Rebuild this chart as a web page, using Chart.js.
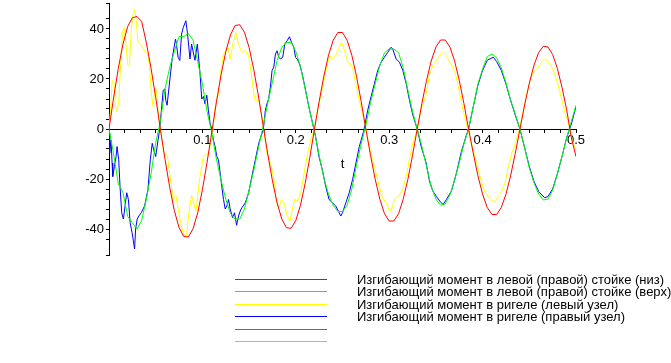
<!DOCTYPE html>
<html>
<head>
<meta charset="utf-8">
<script src="https://cdn.jsdelivr.net/npm/chart.js@4.4.1/dist/chart.umd.min.js"></script>
<style>
  html, body { margin: 0; padding: 0; background: #fff; }
  #wrap { width: 671px; height: 363px; }
</style>
</head>
<body>
<div id="wrap"><canvas id="momentChart" width="671" height="363"></canvas></div>
<script>
// sample times shared by the two smooth curves
const tGrid = [
  0, 0.005, 0.01, 0.015, 0.02, 0.025, 0.03, 0.035, 0.04, 0.045,
  0.05, 0.055, 0.06, 0.065, 0.07, 0.075, 0.08, 0.085, 0.09, 0.095,
  0.1, 0.105, 0.11, 0.115, 0.12, 0.125, 0.13, 0.135, 0.14, 0.145,
  0.15, 0.155, 0.16, 0.165, 0.17, 0.175, 0.18, 0.185, 0.19, 0.195,
  0.2, 0.205, 0.21, 0.215, 0.22, 0.225, 0.23, 0.235, 0.24, 0.245,
  0.25, 0.255, 0.26, 0.265, 0.27, 0.275, 0.28, 0.285, 0.29, 0.295,
  0.3, 0.305, 0.31, 0.315, 0.32, 0.325, 0.33, 0.335, 0.34, 0.345,
  0.35, 0.355, 0.36, 0.365, 0.37, 0.375, 0.38, 0.385, 0.39, 0.395,
  0.4, 0.405, 0.41, 0.415, 0.42, 0.425, 0.43, 0.435, 0.44, 0.445,
  0.45, 0.455, 0.46, 0.465, 0.47, 0.475, 0.48, 0.485, 0.49, 0.495,
  0.5
];

// left (right) column, bottom
const redVals = [
  0, 12.7, 24.3, 34, 41, 44.5, 45, 43, 34.5, 24.3,
  12.7, 0, -12.2, -23.3, -32.7, -39.4, -43, -43.2, -39.9, -33.5,
  -24.3, -13.3, -1.3, 10.7, 21.7, 30.9, 37.6, 41.4, 41.7, 38.7,
  32.6, 23.8, 13.2, 1.4, -10, -20.7, -29.6, -36, -39.5, -39.7,
  -36.6, -30.5, -21.8, -11.4, 0, 11, 21.1, 29.5, 35.5, 38.6,
  38.6, 35.5, 29.5, 21.1, 11, 0, -10.5, -20.1, -28.1, -33.9,
  -36.8, -36.8, -33.9, -28.1, -20.1, -10.5, 0, 10.2, 19.5, 27.2,
  32.8, 35.6, 35.6, 32.8, 27.2, 19.5, 10.2, 0, -9.7, -18.7,
  -26.1, -31.4, -34.2, -34.2, -31.4, -26.1, -18.7, -9.7, 0, 9.6,
  18.3, 25.5, 30.6, 33.1, 32.8, 29.8, 24.3, 16.7, 7.7, -3.5,
  -11
];

// left (right) column, top
const greenVals = [
  0, -10, -22, -25.5, -35, -37.5, -40, -36.5, -28, -18,
  -5.5, 3, 16, 24.7, 31, 37, 37, 38.3, 35.5, 27,
  18, 7, -1.3, -12, -20.5, -28, -33.7, -36, -36, -32,
  -24.5, -16.5, -7.5, 1, 10.5, 18.8, 27.4, 32.7, 34.5, 34.7,
  31, 25, 16, 7, -1, -10.5, -19.5, -26, -30.5, -33,
  -33, -30.5, -24, -14.5, -6, 1.5, 10.5, 18, 25.5, 30.5,
  32, 32, 30.5, 24.5, 15.5, 7, 0, -7, -15, -23,
  -28, -30.5, -30, -26.5, -20.5, -13.5, -6, 0, 9, 18,
  24, 29, 30, 28.5, 24.5, 18.5, 11.5, 6, 0, -7.5,
  -15.5, -21.5, -26, -28.4, -28, -24.5, -18, -11, -3.5, 3,
  9.5
];

// beam, left joint
const yellowT = [
  0, 0.0022, 0.0033, 0.0052, 0.007, 0.0085, 0.0106, 0.0131, 0.0149, 0.0167,
  0.0185, 0.0203, 0.022, 0.0238, 0.0256, 0.0274, 0.0292, 0.031, 0.0346, 0.0382,
  0.0418, 0.0436, 0.0454, 0.0472, 0.049, 0.0508, 0.0526, 0.0548, 0.0587, 0.0623,
  0.0655, 0.0687, 0.0716, 0.0745, 0.0775, 0.0805, 0.083, 0.0857, 0.0885, 0.0931,
  0.0974, 0.101, 0.1064, 0.11, 0.1115, 0.1133, 0.115, 0.117, 0.119, 0.1225,
  0.1278, 0.1296, 0.1333, 0.1358, 0.1387, 0.1423, 0.1459, 0.1495, 0.1524, 0.155,
  0.1567, 0.1603, 0.1632, 0.1656, 0.169, 0.1717, 0.1738, 0.1764, 0.179, 0.1818,
  0.1846, 0.1872, 0.191, 0.1937, 0.1963, 0.1992, 0.2017, 0.2053, 0.209, 0.2126,
  0.216, 0.22, 0.223, 0.2266, 0.2302, 0.2338, 0.2366, 0.2392, 0.2428, 0.2464,
  0.249, 0.2517, 0.2553, 0.2607, 0.2643, 0.2679, 0.2715, 0.275, 0.2787, 0.2822,
  0.2858, 0.2894, 0.293, 0.2966, 0.2995, 0.302, 0.3056, 0.31, 0.3146, 0.3182,
  0.3217, 0.3253, 0.33, 0.3342, 0.3396, 0.3432, 0.3468, 0.3504, 0.354, 0.3583,
  0.3612, 0.3648, 0.3683, 0.3719, 0.3755, 0.3791, 0.3834, 0.39, 0.3935, 0.3971,
  0.4007, 0.4043, 0.4086, 0.4133, 0.4168, 0.4204, 0.424, 0.4276, 0.4312, 0.4348,
  0.4395, 0.4437, 0.4473, 0.4509, 0.4545, 0.458, 0.4616, 0.466, 0.4706, 0.4742,
  0.4778, 0.4814, 0.485, 0.4886, 0.4922, 0.4958, 0.5
];
const yellowVals = [
  0, 10, 19.4, 18.8, 8.9, 6.9, 11.5, 31.3, 39.3, 40.6,
  32, 25.4, 26, 39.3, 45.9, 47.9, 43.3, 34.7, 33.3, 31.3,
  29.5, 24, 14, 9, 16, 15.5, 7, 0, -9.7, -10.5,
  -19, -28.2, -26.6, -33, -39, -42.7, -42.7, -33, -26.6, -32.8,
  -19, -11, -9.6, -4.4, 0, 7.5, 12.8, 13.5, 20.8, 30,
  32.7, 28, 35.3, 38.6, 34, 30.7, 31.3, 29.4, 22, 14.2,
  11.5, 11.5, 6.2, 0, -9.7, -12.3, -15, -20, -28, -31.5,
  -28.2, -29.5, -34.8, -36.8, -32, -28, -28.8, -25.5, -17.6, -9.7,
  -4.4, 0, 7.5, 12.8, 19.4, 26, 29.4, 28, 29.4, 32.7,
  34.7, 32, 27.4, 24.7, 18.1, 11.5, 6.2, 0, -7, -12.3,
  -17.6, -22.9, -27.5, -29.5, -32, -32.8, -28.2, -26.9, -24.2, -18.9,
  -12.3, -5.7, 0, 7.5, 14.2, 22, 25.4, 27.4, 29.4, 30.7,
  29.4, 26.7, 24.7, 20.8, 14.2, 7.5, 1, -8.3, -13.6, -18.9,
  -23.5, -26.2, -28.2, -29.2, -26.9, -24.9, -21.6, -15, -9.7, -5.7,
  0, 7.5, 14.2, 19.4, 22.8, 24.1, 26, 28, 26.7, 24.7,
  21.4, 16.8, 11.5, 6.2, 2.2, -4.4, -8.5
];

// beam, right joint
const blueT = [
  0, 0.0007, 0.0022, 0.0033, 0.004, 0.0058, 0.0076, 0.0086, 0.0104, 0.0118,
  0.0136, 0.0154, 0.0172, 0.019, 0.0208, 0.0226, 0.0247, 0.0274, 0.0285, 0.0302,
  0.032, 0.0345, 0.0381, 0.0417, 0.0442, 0.0463, 0.0478, 0.05, 0.0525, 0.0543,
  0.0561, 0.058, 0.0598, 0.0608, 0.0622, 0.0643, 0.0658, 0.0676, 0.0694, 0.0712,
  0.0722, 0.074, 0.0758, 0.0777, 0.0795, 0.0823, 0.0841, 0.0867, 0.0884, 0.092,
  0.0946, 0.0975, 0.0993, 0.1011, 0.1029, 0.1047, 0.1064, 0.1083, 0.11, 0.1118,
  0.1136, 0.1154, 0.1172, 0.119, 0.1207, 0.1226, 0.1244, 0.1262, 0.128, 0.1297,
  0.1322, 0.1344, 0.1366, 0.1387, 0.1405, 0.1423, 0.1459, 0.1495, 0.153, 0.1567,
  0.1603, 0.1639, 0.1656, 0.1674, 0.1692, 0.171, 0.1728, 0.1746, 0.1764, 0.1782,
  0.18, 0.1817, 0.1835, 0.186, 0.1882, 0.1907, 0.1932, 0.1954, 0.1979, 0.1997,
  0.2015, 0.204, 0.2069, 0.2105, 0.214, 0.2194, 0.2212, 0.2248, 0.2284, 0.232,
  0.2356, 0.2392, 0.2428, 0.2464, 0.2482, 0.25, 0.2536, 0.2572, 0.2608, 0.2644,
  0.268, 0.2726, 0.277, 0.2805, 0.2841, 0.2877, 0.2913, 0.2949, 0.2985, 0.302,
  0.3038, 0.3074, 0.311, 0.3146, 0.3182, 0.3217, 0.3253, 0.33, 0.3342, 0.3396,
  0.3432, 0.3468, 0.3504, 0.354, 0.3576, 0.3612, 0.3666, 0.372, 0.3773, 0.3827,
  0.385, 0.39, 0.395, 0.4, 0.405, 0.4114, 0.415, 0.42, 0.425, 0.43,
  0.435, 0.44, 0.445, 0.45, 0.455, 0.46, 0.4665, 0.47, 0.475, 0.48,
  0.485, 0.49, 0.495, 0.5
];
const blueVals = [
  -1.7, -9.7, -4.4, -13.6, -19, -15, -11, -7, -12.3, -22.9,
  -33.5, -36, -30.8, -25.5, -28.2, -37.4, -41.4, -48, -40, -36,
  -34.8, -33.5, -30.8, -24.2, -12.3, -5.7, -8.3, -11, -4.4, 0,
  7.5, 15.5, 16, 11.5, 9.5, 16.8, 22, 28, 32, 36,
  34, 28.7, 27.4, 38, 40.6, 43.3, 38, 28, 34, 27.5,
  34, 22, 12, 13, 10, 13.5, 7.5, 2.2, 0, -4.4,
  -7, -11, -12.3, -17.6, -22.9, -28.2, -32, -30.8, -28.2, -32,
  -35.4, -33.5, -38.5, -34.8, -32.8, -31.5, -29.5, -25.5, -18.9, -12.3,
  -5.7, -1.7, 1, 7.5, 10.2, 12.2, 16.8, 23.4, 24.7, 30,
  31.3, 28.7, 28, 28.7, 34, 35.3, 36.9, 34.7, 32.7, 28.7,
  28, 26, 22, 15.5, 8.9, 0, -3, -11, -16.3, -22.9,
  -28.2, -29.5, -30.8, -33.5, -34.8, -33.5, -29.5, -25.5, -20.2, -13.6,
  -7, -1, 7.5, 12.8, 18.1, 23.4, 26.7, 28.7, 30.7, 32.7,
  32, 28, 26.7, 23.4, 18.1, 11.5, 5.6, 0, -7, -13.6,
  -21, -24.9, -26.9, -28.8, -30.2, -28.2, -24.9, -17.6, -9, -2.4,
  0, 8.9, 17.5, 23.5, 27.5, 28.7, 27, 23.5, 18, 11.5,
  5.5, 0, -7.5, -15, -21, -25, -27.5, -27, -24, -18,
  -11, -3.5, 2, 9
];

const seriesLabels = [
  'Изгибающий момент в левой (правой) стойке (низ)',
  'Изгибающий момент в левой (правой) стойке (верх)',
  'Изгибающий момент в ригеле (левый узел)',
  'Изгибающий момент в ригеле (правый узел)'
];
// Maple lists six line colours but only four labels
const legendColors = ['#ff0000', '#00ff00', '#ffff00', '#0000ff', '#ff00ff', '#00ffff'];
const xTickLabels = [0.1, 0.2, 0.3, 0.4, 0.5];
const yTickLabels = [-40, -20, 0, 20, 40];

const FONT = '"Liberation Sans", Arial, sans-serif';

function toPoints(ts, vs) {
    return ts.map((t, i) => ({ x: t, y: vs[i] }));
}

function line(label, color, ts, vs) {
    return {
        label: label,
        data: toPoints(ts, vs),
        borderColor: color,
        backgroundColor: color,
        borderWidth: 1,
        pointRadius: 0,
        tension: 0,
        fill: false
    };
}

// legend drawn like Maple's: a column of coloured strokes, labels to the right
const mapleLegend = {
    id: 'mapleLegend',
    afterDraw(chart) {
        const ctx = chart.ctx;
        ctx.save();
        ctx.lineWidth = 1;
        legendColors.forEach((c, i) => {
            const y = Math.round(279 + i * 12.4) + 0.5;
            ctx.strokeStyle = c;
            ctx.beginPath();
            ctx.moveTo(235, y);
            ctx.lineTo(327, y);
            ctx.stroke();
        });
        ctx.fillStyle = '#000';
        ctx.font = '13px ' + FONT;
        ctx.textBaseline = 'middle';
        seriesLabels.forEach((s, i) => ctx.fillText(s, 357, 280 + i * 12.6));
        ctx.restore();
    }
};

const ctx = document.getElementById('momentChart').getContext('2d');
new Chart(ctx, {
    type: 'line',
    data: {
        datasets: [
            line(seriesLabels[0], '#ff0000', tGrid, redVals),
            line(seriesLabels[1], '#00ff00', tGrid, greenVals),
            line(seriesLabels[2], '#ffff00', yellowT, yellowVals),
            line(seriesLabels[3], '#0000ff', blueT, blueVals)
        ]
    },
    options: {
        responsive: false,
        animation: false,
        devicePixelRatio: 1,
        layout: {
            padding: { left: 0, right: 95, top: 3, bottom: 108 }
        },
        plugins: {
            legend: { display: false },
            tooltip: { enabled: false }
        },
        scales: {
            x: {
                type: 'linear',
                min: 0,
                max: 0.5,
                position: { y: 0 },
                border: { color: '#000', width: 1 },
                grid: { drawOnChartArea: false, drawTicks: true, tickLength: 3, tickColor: '#000' },
                ticks: {
                    stepSize: 0.1 / 6,
                    maxTicksLimit: 100,
                    autoSkip: false,
                    maxRotation: 0,
                    padding: 1,
                    color: '#000',
                    font: { family: FONT, size: 13 },
                    callback: function(v) {
                        const k = Math.round(v * 10) / 10;
                        if (Math.abs(v - k) > 1e-6) return '';
                        return xTickLabels.includes(k) ? String(k) : '';
                    }
                },
                title: {
                    display: true,
                    text: 't',
                    color: '#000',
                    font: { family: FONT, size: 13 },
                    padding: { top: 7, bottom: 0 }
                },
                afterFit: function(s) { s.paddingLeft = 0; s.paddingRight = 0; }
            },
            y: {
                type: 'linear',
                min: -50.4,
                max: 50.4,
                position: 'left',
                border: { color: '#000', width: 1 },
                grid: { drawOnChartArea: false, drawTicks: true, tickLength: 3, tickColor: '#000' },
                ticks: {
                    stepSize: 4,
                    maxTicksLimit: 100,
                    autoSkip: false,
                    padding: 2,
                    color: '#000',
                    font: { family: FONT, size: 13 },
                    callback: function(v) {
                        return yTickLabels.includes(v) ? String(v) : '';
                    }
                },
                afterFit: function(s) {
                    s.width = 109;
                    s.paddingTop = 0;
                    s.paddingBottom = 0;
                }
            }
        }
    },
    plugins: [mapleLegend]
});
</script>
</body>
</html>
